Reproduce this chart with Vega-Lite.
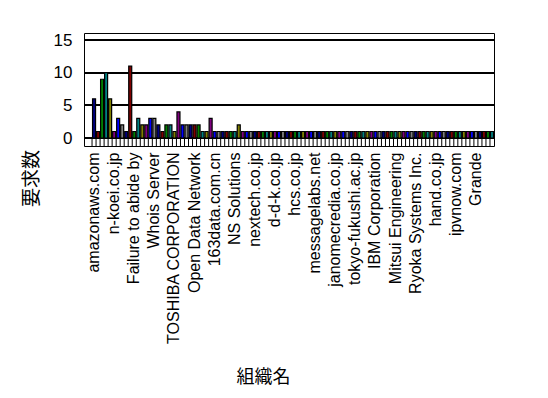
{
  "$schema": "https://vega.github.io/schema/vega-lite/v6.json",
  "autosize": "none",
  "padding": {"left": 84, "top": 33, "right": 54, "bottom": 252},
  "width": 410,
  "height": 113,
  "background": "white",
  "config": {"view": {"stroke": "black", "strokeWidth": 1}, "font": "Liberation Sans"},
  "data": {"values": [
    {"組織名": "amazonaws.com", "要求数": 6},
    {"組織名": "org01", "要求数": 1},
    {"組織名": "org02", "要求数": 9},
    {"組織名": "org03", "要求数": 10},
    {"組織名": "org04", "要求数": 6},
    {"組織名": "n-koei.co.jp", "要求数": 1},
    {"組織名": "org06", "要求数": 3},
    {"組織名": "org07", "要求数": 2},
    {"組織名": "org08", "要求数": 1},
    {"組織名": "org09", "要求数": 11},
    {"組織名": "Failure to abide by", "要求数": 1},
    {"組織名": "org11", "要求数": 3},
    {"組織名": "org12", "要求数": 2},
    {"組織名": "org13", "要求数": 2},
    {"組織名": "org14", "要求数": 3},
    {"組織名": "Whois Server", "要求数": 3},
    {"組織名": "org16", "要求数": 2},
    {"組織名": "org17", "要求数": 1},
    {"組織名": "org18", "要求数": 2},
    {"組織名": "org19", "要求数": 2},
    {"組織名": "TOSHIBA CORPORATION", "要求数": 1},
    {"組織名": "org21", "要求数": 4},
    {"組織名": "org22", "要求数": 2},
    {"組織名": "org23", "要求数": 2},
    {"組織名": "org24", "要求数": 2},
    {"組織名": "Open Data Network", "要求数": 2},
    {"組織名": "org26", "要求数": 2},
    {"組織名": "org27", "要求数": 1},
    {"組織名": "org28", "要求数": 1},
    {"組織名": "org29", "要求数": 3},
    {"組織名": "163data.com.cn", "要求数": 1},
    {"組織名": "org31", "要求数": 1},
    {"組織名": "org32", "要求数": 1},
    {"組織名": "org33", "要求数": 1},
    {"組織名": "org34", "要求数": 1},
    {"組織名": "NS Solutions", "要求数": 1},
    {"組織名": "org36", "要求数": 2},
    {"組織名": "org37", "要求数": 1},
    {"組織名": "org38", "要求数": 1},
    {"組織名": "org39", "要求数": 1},
    {"組織名": "nextech.co.jp", "要求数": 1},
    {"組織名": "org41", "要求数": 1},
    {"組織名": "org42", "要求数": 1},
    {"組織名": "org43", "要求数": 1},
    {"組織名": "org44", "要求数": 1},
    {"組織名": "d-d-k.co.jp", "要求数": 1},
    {"組織名": "org46", "要求数": 1},
    {"組織名": "org47", "要求数": 1},
    {"組織名": "org48", "要求数": 1},
    {"組織名": "org49", "要求数": 1},
    {"組織名": "hcs.co.jp", "要求数": 1},
    {"組織名": "org51", "要求数": 1},
    {"組織名": "org52", "要求数": 1},
    {"組織名": "org53", "要求数": 1},
    {"組織名": "org54", "要求数": 1},
    {"組織名": "messagelabs.net", "要求数": 1},
    {"組織名": "org56", "要求数": 1},
    {"組織名": "org57", "要求数": 1},
    {"組織名": "org58", "要求数": 1},
    {"組織名": "org59", "要求数": 1},
    {"組織名": "janomecredia.co.jp", "要求数": 1},
    {"組織名": "org61", "要求数": 1},
    {"組織名": "org62", "要求数": 1},
    {"組織名": "org63", "要求数": 1},
    {"組織名": "org64", "要求数": 1},
    {"組織名": "tokyo-fukushi.ac.jp", "要求数": 1},
    {"組織名": "org66", "要求数": 1},
    {"組織名": "org67", "要求数": 1},
    {"組織名": "org68", "要求数": 1},
    {"組織名": "org69", "要求数": 1},
    {"組織名": "IBM Corporation", "要求数": 1},
    {"組織名": "org71", "要求数": 1},
    {"組織名": "org72", "要求数": 1},
    {"組織名": "org73", "要求数": 1},
    {"組織名": "org74", "要求数": 1},
    {"組織名": "Mitsui Engineering", "要求数": 1},
    {"組織名": "org76", "要求数": 1},
    {"組織名": "org77", "要求数": 1},
    {"組織名": "org78", "要求数": 1},
    {"組織名": "org79", "要求数": 1},
    {"組織名": "Ryoka Systems Inc.", "要求数": 1},
    {"組織名": "org81", "要求数": 1},
    {"組織名": "org82", "要求数": 1},
    {"組織名": "org83", "要求数": 1},
    {"組織名": "org84", "要求数": 1},
    {"組織名": "hand.co.jp", "要求数": 1},
    {"組織名": "org86", "要求数": 1},
    {"組織名": "org87", "要求数": 1},
    {"組織名": "org88", "要求数": 1},
    {"組織名": "org89", "要求数": 1},
    {"組織名": "ipvnow.com", "要求数": 1},
    {"組織名": "org91", "要求数": 1},
    {"組織名": "org92", "要求数": 1},
    {"組織名": "org93", "要求数": 1},
    {"組織名": "org94", "要求数": 1},
    {"組織名": "Grande", "要求数": 1},
    {"組織名": "org96", "要求数": 1},
    {"組織名": "org97", "要求数": 1},
    {"組織名": "org98", "要求数": 1},
    {"組織名": "org99", "要求数": 1}
  ]},
  "layer": [
    {
      "mark": {"type": "rule", "color": "black", "strokeWidth": 1},
      "encoding": {"y": {"datum": 5, "type": "quantitative"}}
    },
    {
      "mark": {"type": "rule", "color": "black", "strokeWidth": 1},
      "encoding": {"y": {"datum": 10, "type": "quantitative"}}
    },
    {
      "mark": {"type": "rule", "color": "black", "strokeWidth": 1},
      "encoding": {"y": {"datum": 15, "type": "quantitative"}}
    },
    {
      "mark": {"type": "rule", "color": "black", "strokeWidth": 1},
      "encoding": {"y": {"datum": 0, "type": "quantitative"}}
    },
    {
      "mark": {"type": "rule", "color": "black", "strokeWidth": 1},
      "encoding": {
        "x": {"field": "組織名", "type": "nominal", "sort": null, "bandPosition": 0},
        "y": {"datum": -1.22, "type": "quantitative"},
        "y2": {"datum": 0}
      }
    },
    {
      "mark": {"type": "bar", "width": 3, "stroke": "black", "strokeWidth": 1.2},
      "encoding": {
        "x": {
          "field": "組織名", "type": "nominal", "sort": null,
          "scale": {"paddingInner": 0, "paddingOuter": 1.25, "align": 1},
          "axis": {
            "values": ["amazonaws.com", "n-koei.co.jp", "Failure to abide by", "Whois Server", "TOSHIBA CORPORATION", "Open Data Network", "163data.com.cn", "NS Solutions", "nextech.co.jp", "d-d-k.co.jp", "hcs.co.jp", "messagelabs.net", "janomecredia.co.jp", "tokyo-fukushi.ac.jp", "IBM Corporation", "Mitsui Engineering", "Ryoka Systems Inc.", "hand.co.jp", "ipvnow.com", "Grande"],
            "labelAngle": -90, "labelAlign": "right", "labelBaseline": "middle",
            "labelFontSize": 16, "labelColor": "black", "labelPadding": 6,
            "labelLimit": 300, "labelOverlap": false,
            "ticks": false, "domain": false, "grid": false,
            "title": "組織名", "titleFont": "Noto Sans CJK JP", "titleFontSize": 18,
            "titleFontWeight": "normal", "titleColor": "black",
            "titleX": 179, "titleY": 231, "titleAlign": "center", "titleBaseline": "middle"
          }
        },
        "y": {"field": "要求数", "type": "quantitative"},
        "y2": {"datum": 0},
        "color": {
          "field": "組織名", "type": "nominal", "sort": null, "legend": null,
          "scale": {"range": ["#000080", "#800000", "#008000", "#008080", "#808000", "#800080", "#0000ff", "#808080"]}
        }
      }
    }
  ],
  "encoding": {
    "y": {
      "type": "quantitative",
      "scale": {"domain": [-1.22, 16.08], "nice": false, "zero": false},
      "axis": {
        "values": [0, 5, 10, 15], "grid": false, "labelOverlap": false,
        "domain": false, "ticks": false, "labelPadding": 12,
        "labelFontSize": 17, "labelColor": "black",
        "title": "要求数", "titleFont": "Noto Sans CJK JP", "titleFontSize": 19,
        "titleFontWeight": "normal", "titleColor": "black",
        "titleX": -53, "titleY": 145, "titleAlign": "center", "titleBaseline": "middle", "titleAngle": -90
      }
    }
  }
}
